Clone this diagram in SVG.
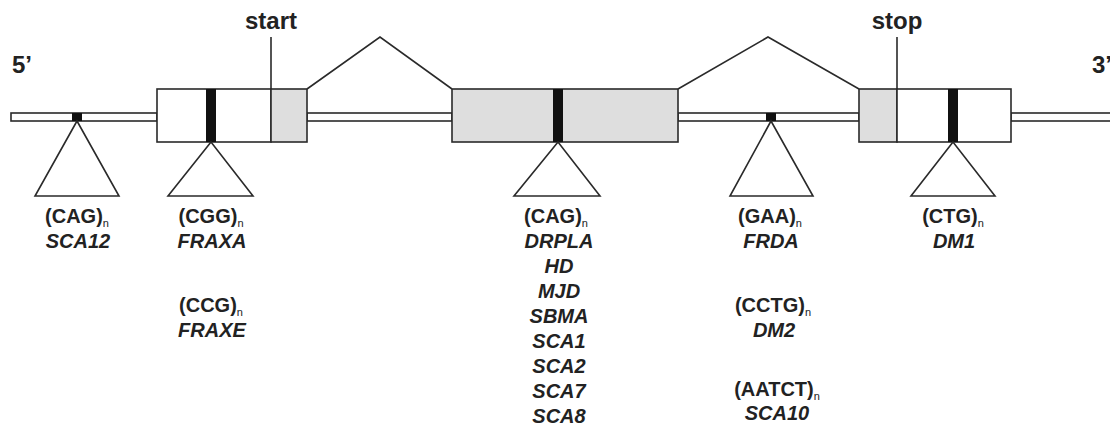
<svg xmlns="http://www.w3.org/2000/svg" width="1110" height="429" viewBox="0 0 1110 429">
<style>
.ln{fill:none;stroke:#2a2a2a;stroke-width:1.6;stroke-linejoin:miter}
.bb{fill:#fff;stroke:#2a2a2a;stroke-width:1.6}
.ex{fill:#fff;stroke:#2a2a2a;stroke-width:1.6}
.sh{fill:#dedede;stroke:#2a2a2a;stroke-width:1.6}
.bar{fill:#111}
.tri{fill:#fff;stroke:#2a2a2a;stroke-width:1.6;stroke-linejoin:miter}
.big{font-family:"Liberation Sans",Arial,sans-serif;font-weight:bold;font-size:24px;fill:#222}
.lab{font-family:"Liberation Sans",Arial,sans-serif;font-weight:bold;font-size:20px;fill:#222;text-anchor:middle}
.it{font-style:italic}
.sub{font-size:11px;font-weight:normal}
</style>
<g id="backbone">
<rect class="bb" x="11" y="113" width="146" height="8"/>
<rect class="bb" x="307" y="113" width="145" height="8"/>
<rect class="bb" x="678" y="113" width="181" height="8"/>
<rect class="bb" x="1011" y="113" width="102" height="8"/>
<rect class="bar" x="72" y="113" width="10" height="8"/>
<rect class="bar" x="766" y="113" width="10" height="8"/>
</g>
<g id="connectors">
<polyline class="ln" points="307,89 380,37 452,89"/>
<polyline class="ln" points="678,89 768,37 859,89"/>
<line class="ln" x1="271" y1="37" x2="271" y2="89"/>
<line class="ln" x1="897" y1="37" x2="897" y2="89"/>
</g>
<g id="exon1">
<rect class="ex" x="157" y="89" width="114" height="53"/>
<rect class="sh" x="271" y="89" width="36" height="53"/>
<rect class="bar" x="206" y="89" width="10" height="53"/>
</g>
<g id="exon2">
<rect class="sh" x="452" y="89" width="226" height="53"/>
<rect class="bar" x="553" y="89" width="10" height="53"/>
</g>
<g id="exon3">
<rect class="sh" x="859" y="89" width="38" height="53"/>
<rect class="ex" x="897" y="89" width="114" height="53"/>
<rect class="bar" x="948" y="89" width="10" height="53"/>
</g>
<g id="end-labels">
<text class="big" x="12" y="73">5’</text>
<text class="big" x="1092" y="73">3’</text>
<text class="big" x="271" y="29" text-anchor="middle">start</text>
<text class="big" x="897" y="29" text-anchor="middle">stop</text>
</g>
<g id="site1">
<polygon class="tri" points="77,121 35,196 119,196"/>
<text class="lab" x="77" y="223">(CAG)<tspan class="sub" dy="4">n</tspan></text>
<text class="lab it" x="78" y="248">SCA12</text>
</g>
<g id="site2">
<polygon class="tri" points="211,142 168,196 253,196"/>
<text class="lab" x="211" y="223">(CGG)<tspan class="sub" dy="4">n</tspan></text>
<text class="lab it" x="212" y="248">FRAXA</text>
<text class="lab" x="211" y="312">(CCG)<tspan class="sub" dy="4">n</tspan></text>
<text class="lab it" x="212" y="337">FRAXE</text>
</g>
<g id="site3">
<polygon class="tri" points="558,142 514,196 600,196"/>
<text class="lab" x="556" y="223">(CAG)<tspan class="sub" dy="4">n</tspan></text>
<text class="lab it" x="559" y="248">DRPLA</text>
<text class="lab it" x="559" y="273">HD</text>
<text class="lab it" x="559" y="298">MJD</text>
<text class="lab it" x="559" y="323">SBMA</text>
<text class="lab it" x="559" y="348">SCA1</text>
<text class="lab it" x="559" y="373">SCA2</text>
<text class="lab it" x="559" y="398">SCA7</text>
<text class="lab it" x="559" y="423">SCA8</text>
</g>
<g id="site4">
<polygon class="tri" points="771,121 730,196 813,196"/>
<text class="lab" x="770" y="223">(GAA)<tspan class="sub" dy="4">n</tspan></text>
<text class="lab it" x="771" y="248">FRDA</text>
<text class="lab" x="773" y="312">(CCTG)<tspan class="sub" dy="4">n</tspan></text>
<text class="lab it" x="774" y="337">DM2</text>
<text class="lab" x="777" y="396">(AATCT)<tspan class="sub" dy="4">n</tspan></text>
<text class="lab it" x="777" y="420">SCA10</text>
</g>
<g id="site5">
<polygon class="tri" points="953,142 911,196 995,196"/>
<text class="lab" x="953" y="223">(CTG)<tspan class="sub" dy="4">n</tspan></text>
<text class="lab it" x="954" y="248">DM1</text>
</g>
</svg>
